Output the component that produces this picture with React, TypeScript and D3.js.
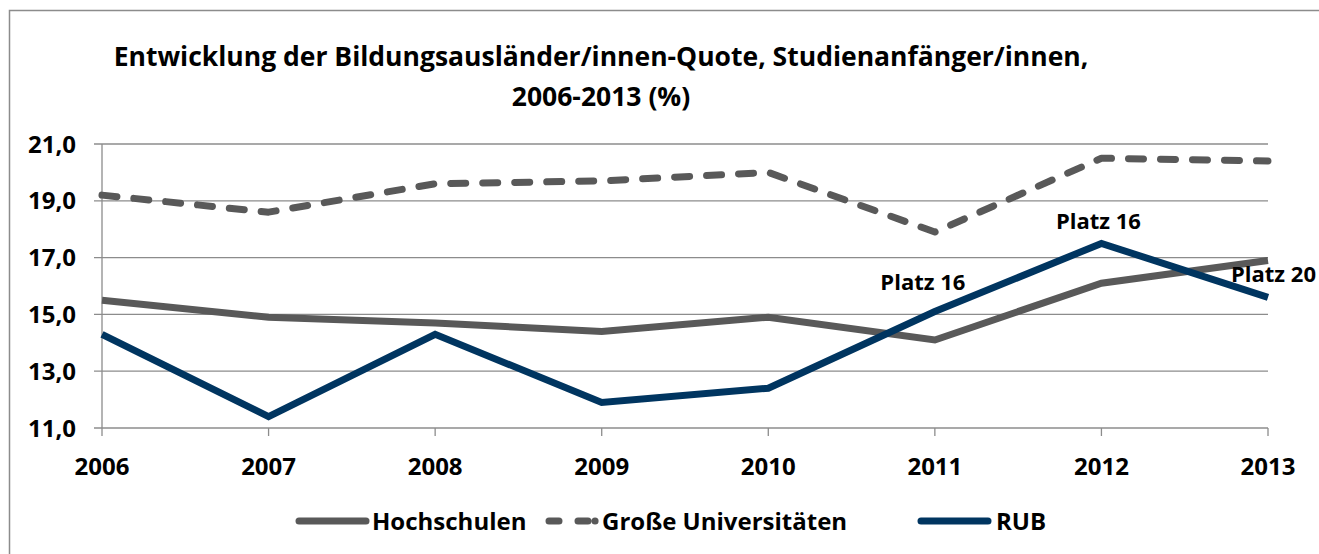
import React from "react";
import * as d3 from "d3";

const years = ["2006", "2007", "2008", "2009", "2010", "2011", "2012", "2013"];
const hochschulen = [15.5, 14.9, 14.7, 14.4, 14.9, 14.1, 16.1, 16.9];
const grosseUnis = [19.2, 18.6, 19.6, 19.7, 20.0, 17.9, 20.5, 20.4];
const rub = [14.3, 11.4, 14.3, 11.9, 12.4, 15.1, 17.5, 15.6];
const yTicks = [11, 13, 15, 17, 19, 21];
const platzLabels = [
  { year: "2011", text: "Platz 16" },
  { year: "2012", text: "Platz 16" },
  { year: "2013", text: "Platz 20" },
];
const titleLines = [
  "Entwicklung der Bildungsausländer/innen-Quote, Studienanfänger/innen,",
  "2006-2013 (%)",
];

const W = 1319;
const H = 554;
const FONT = "'Open Sans', 'Noto Sans', sans-serif";
const GREY = "#595959";
const NAVY = "#003560";
const GRID = "#8c8c8c";
const LW = 7;

export default function App() {
  const x = d3.scalePoint<string>().domain(years).range([102, 1268]);
  const y = d3.scaleLinear().domain([11, 21]).range([428, 144]);
  const line = d3
    .line<number>()
    .x((_, i) => x(years[i]) as number)
    .y((d) => y(d));

  const series = [
    { name: "Hochschulen", values: hochschulen, color: GREY, dash: undefined as string | undefined, legendDash: undefined as string | undefined },
    { name: "Große Universitäten", values: grosseUnis, color: GREY, dash: "15,17", legendDash: "10,19,10,7,0.1,50" },
    { name: "RUB", values: rub, color: NAVY, dash: undefined as string | undefined, legendDash: undefined as string | undefined },
  ];

  const labelOffsets: Record<string, [number, number, string]> = {
    "2011": [-12, -22, "middle"],
    "2012": [-3, -14, "middle"],
    "2013": [-37, -15, "start"],
  };

  const legendItems = [
    { s: series[0], x0: 299, x1: 366, tx: 372 },
    { s: series[1], x0: 549, x1: 600, tx: 602 },
    { s: series[2], x0: 921, x1: 988, tx: 996 },
  ];

  return (
    <svg
      width={W}
      height={H}
      style={{ position: "absolute", left: 0, top: 0, background: "#fff" }}
    >
      <rect x={0} y={0} width={W} height={H} fill="#fff" />
      <rect x={9.5} y={10.5} width={W} height={H} fill="none" stroke="#8c8c8c" strokeWidth={1.5} />

      {/* title */}
      {titleLines.map((t, i) => (
        <text
          key={i}
          x={601}
          y={66 + i * 40}
          textAnchor="middle"
          fontFamily={FONT}
          fontWeight={700}
          fontSize={26.5}
          fill="#000"
        >
          {t}
        </text>
      ))}

      {/* gridlines */}
      {yTicks.map((t) => (
        <g key={t}>
          <line x1={94} x2={1268} y1={y(t)} y2={y(t)} stroke={GRID} strokeWidth={1.3} />
          <text
            x={76}
            y={y(t)}
            dy="0.36em"
            textAnchor="end"
            fontFamily={FONT}
            fontWeight={700}
            fontSize={24}
            fill="#000"
          >
            {d3.format(".1f")(t).replace(".", ",")}
          </text>
        </g>
      ))}
      {/* y axis line */}
      <line x1={102} x2={102} y1={y(21)} y2={y(11)} stroke={GRID} strokeWidth={1.3} />

      {/* x ticks */}
      {years.map((yr) => (
        <g key={yr}>
          <line x1={x(yr)} x2={x(yr)} y1={y(11)} y2={y(11) + 8} stroke={GRID} strokeWidth={1.3} />
          <text
            x={x(yr)}
            y={466}
            dy="0.36em"
            textAnchor="middle"
            fontFamily={FONT}
            fontWeight={700}
            fontSize={24}
            fill="#000"
          >
            {yr}
          </text>
        </g>
      ))}

      {/* series */}
      {series.map((s) => (
        <path
          key={s.name}
          d={line(s.values) || ""}
          fill="none"
          stroke={s.color}
          strokeWidth={LW}
          strokeLinejoin={s.dash ? "round" : "miter"}
          strokeLinecap={s.dash ? "round" : "butt"}
          strokeDasharray={s.dash}
        />
      ))}

      {/* Platz labels */}
      {platzLabels.map((p) => {
        const i = years.indexOf(p.year);
        const [dx, dy, anchor] = labelOffsets[p.year];
        return (
          <text
            key={p.year}
            x={(x(p.year) as number) + dx}
            y={y(rub[i]) + dy}
            textAnchor={anchor as any}
            fontFamily={FONT}
            fontWeight={700}
            fontSize={22}
            fill="#000"
          >
            {p.text}
          </text>
        );
      })}

      {/* legend */}
      {legendItems.map(({ s, x0, x1, tx }) => (
        <g key={s.name}>
          <line
            x1={x0}
            x2={x1}
            y1={521}
            y2={521}
            stroke={s.color}
            strokeWidth={LW}
            strokeLinecap="round"
            strokeDasharray={s.legendDash}
          />
          <text
            x={tx}
            y={521}
            dy="0.36em"
            fontFamily={FONT}
            fontWeight={700}
            fontSize={24}
            fill="#000"
          >
            {s.name}
          </text>
        </g>
      ))}
    </svg>
  );
}
